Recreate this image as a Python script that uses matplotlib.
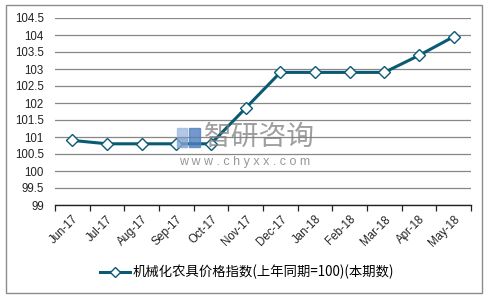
import matplotlib
matplotlib.use("Agg")
import matplotlib.pyplot as plt
from matplotlib.patches import Rectangle
from matplotlib.lines import Line2D

categories = ["Jun-17", "Jul-17", "Aug-17", "Sep-17", "Oct-17", "Nov-17",
              "Dec-17", "Jan-18", "Feb-18", "Mar-18", "Apr-18", "May-18"]
values = [100.9, 100.8, 100.8, 100.8, 100.8, 101.85,
          102.9, 102.9, 102.9, 102.9, 103.4, 103.95]
series_name = "机械化农具价格指数(上年同期=100)(本期数)"
yticks = [99, 99.5, 100, 100.5, 101, 101.5, 102, 102.5, 103, 103.5, 104, 104.5]
ytick_labels = ["99", "99.5", "100", "100.5", "101", "101.5", "102", "102.5",
                "103", "103.5", "104", "104.5"]

plt.rcParams['font.family'] = ['Liberation Sans', 'Noto Sans CJK SC', 'DejaVu Sans']

W, H = 491, 297
fig = plt.figure(figsize=(W / 100, H / 100), dpi=100)
fig.patch.set_facecolor("white")

# outer border
fig.add_artist(Rectangle((6 / W, 4.5 / H), (482 - 6) / W, (292.5 - 4.5) / H,
                         transform=fig.transFigure, fill=False,
                         edgecolor="#8c8c8c", linewidth=1.0))

ax = fig.add_axes([55 / W, 1 - 205 / H, (471 - 55) / W, (205 - 18) / H])
x = list(range(len(categories)))
color = "#0b5a73"
ax.plot(x, values, color=color, linewidth=2.2, marker="D", markersize=6,
        markerfacecolor="white", markeredgecolor=color, markeredgewidth=1.0,
        zorder=3, label=series_name)

ax.set_xlim(-0.5, len(categories) - 0.5)
ax.set_ylim(99, 104.5)
ax.set_yticks(yticks)
ax.set_yticklabels(ytick_labels, fontsize=8.3, color="#222222")
ax.tick_params(axis="y", length=0, pad=8)
ax.yaxis.grid(True, color="#878787", linewidth=0.9)
ax.set_axisbelow(True)

ax.set_xticks([i - 0.5 for i in range(len(categories) + 1)], minor=False)
ax.set_xticklabels([])
ax.set_xticks(x, minor=True)
ax.set_xticklabels(categories, minor=True, rotation=45, ha="right",
                   rotation_mode="anchor", fontsize=8.3, color="#222222")
ax.tick_params(axis="x", which="major", length=4, direction="out",
               color="#222222", width=0.9)
ax.tick_params(axis="x", which="minor", length=0, pad=6)

for s in ["left", "right", "top"]:
    ax.spines[s].set_visible(False)
ax.spines["bottom"].set_color("#222222")
ax.spines["bottom"].set_linewidth(1.0)

# watermark
fig.text(259 / W, 1 - 137 / H, "智研咨询", fontsize=20, color="#7f7f7f",
         alpha=0.75, ha="center", va="center", family=["Noto Sans CJK SC"],
         zorder=5)
fig.text(245 / W, 1 - 162 / H, "w w w . c h y x x . c o m", fontsize=9,
         color="#7f7f7f", alpha=0.8, ha="center", va="center", zorder=5)
fig.add_artist(Rectangle((177 / W, 1 - 147 / H), 10 / W, 9 / H,
                         transform=fig.transFigure, color="#7fa3d0", alpha=0.8))
fig.add_artist(Rectangle((189 / W, 1 - 147 / H), 11 / W, 19 / H,
                         transform=fig.transFigure, color="#4f7fc0", alpha=0.8))
fig.add_artist(Rectangle((177 / W, 1 - 136 / H), 10 / W, 8 / H,
                         transform=fig.transFigure, color="#9fbbe0", alpha=0.8))

handle = Line2D([], [], color=color, linewidth=2.2, marker="D", markersize=5,
                markerfacecolor="white", markeredgecolor=color)
fig.legend([handle], [series_name], loc="center", bbox_to_anchor=(247 / W, 1 - 272 / H),
           frameon=False, handlelength=2.2, handletextpad=0.2,
           prop={"family": ["Noto Sans CJK SC", "Liberation Sans"], "size": 9.6})

fig.savefig("out.png", dpi=100)
